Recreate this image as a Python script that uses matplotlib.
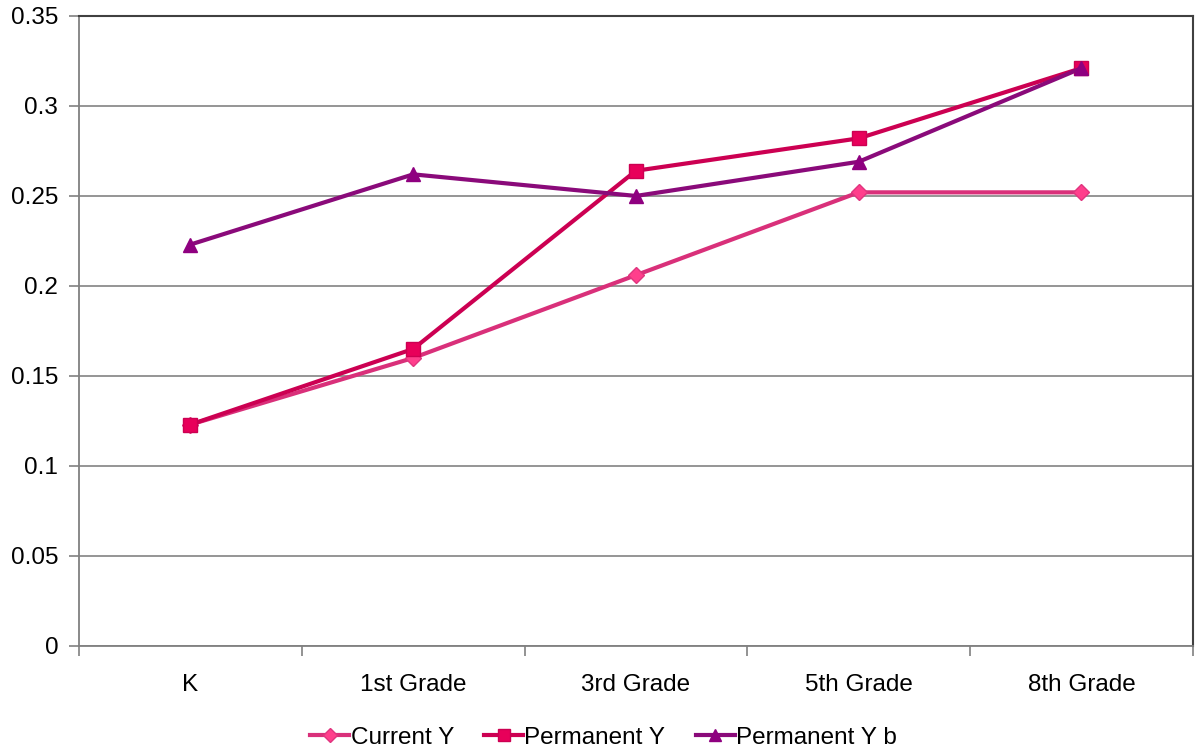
import numpy as np
import matplotlib.pyplot as plt

plt.rcParams['font.family'] = ['Liberation Sans', 'DejaVu Sans']

grades = ["K", "1st Grade", "3rd Grade", "5th Grade", "8th Grade"]
current_y = [0.123, 0.160, 0.206, 0.252, 0.252]
permanent_y = [0.123, 0.165, 0.264, 0.282, 0.321]
permanent_y_b = [0.223, 0.262, 0.250, 0.269, 0.321]

x = np.arange(len(grades))

fig = plt.figure(figsize=(11.99, 7.52), dpi=100)
ax = fig.add_axes([0.0659, 0.141, 0.929, 0.8378])

ax.plot(x, current_y, color="#D9307A", lw=3, marker="D", ms=8,
        mfc="#FF3F8C", mec="#E0357F", label="Current Y", zorder=3)
ax.plot(x, permanent_y, color="#CC0052", lw=3, marker="s", ms=9.5,
        mfc="#E8005A", mec="#CC0052", label="Permanent Y", zorder=4)
ax.plot(x, permanent_y_b, color="#8A0A7A", lw=3, marker="^", ms=10,
        mfc="#8F0080", mec="#8F0080", label="Permanent Y b", zorder=5)

ax.set_xlim(-0.5, len(grades) - 0.5)
ax.set_ylim(0, 0.35)
ax.set_yticks(np.arange(0, 0.351, 0.05))
ax.set_yticklabels(["0", "0.05", "0.1", "0.15", "0.2", "0.25", "0.3", "0.35"])
ax.yaxis.grid(True, color="#8C8C8C", lw=1.3)
ax.set_axisbelow(True)

# category labels centred, tick marks between categories
ax.set_xticks(x)
ax.set_xticklabels(grades)
ax.tick_params(axis="x", length=0, pad=20)
ax.set_xticks(np.arange(-0.5, len(grades)), minor=True)
ax.tick_params(axis="x", which="minor", length=7, color="#808080", width=1.2)
ax.tick_params(axis="y", length=7, color="#808080", width=1.2, pad=8)
ax.tick_params(labelsize=17.5)

for side in ["left", "bottom"]:
    ax.spines[side].set_color("#808080")
    ax.spines[side].set_linewidth(1.3)
for side in ["top", "right"]:
    ax.spines[side].set_color("#404040")
    ax.spines[side].set_linewidth(1.5)

leg = ax.legend(loc="center", bbox_to_anchor=(0.471, -0.146), ncol=3,
                frameon=False, fontsize=17.5, handlelength=1.6,
                handletextpad=0.05, columnspacing=1.25, borderaxespad=0,
                markerscale=0.85)

fig.savefig("out.png", dpi=100)
